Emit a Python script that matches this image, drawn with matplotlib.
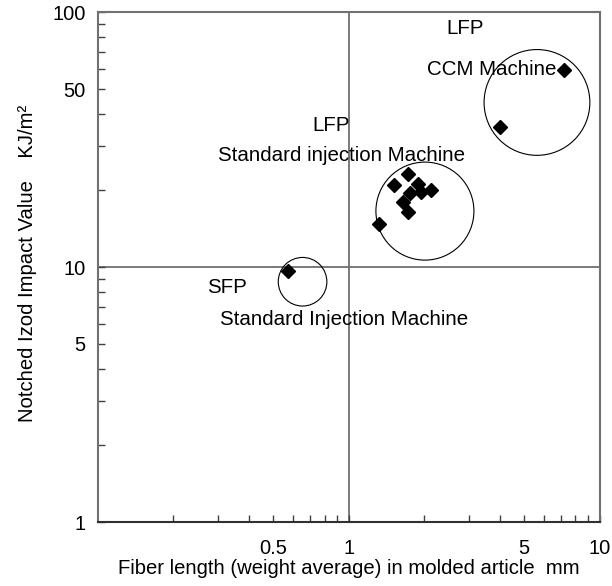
import matplotlib
matplotlib.use("Agg")
import matplotlib.pyplot as plt
from matplotlib.ticker import FixedLocator, NullFormatter

plt.rcParams['font.family'] = ['Liberation Sans', 'DejaVu Sans']

# fiber length (mm) vs notched izod impact (KJ/m2)
sfp_x = [0.57]
sfp_y = [9.7]
lfp_x = [1.72, 1.52, 1.88, 1.75, 1.94, 2.13, 1.64, 1.72, 1.32]
lfp_y = [23.3, 21.0, 21.3, 19.6, 19.8, 20.0, 18.1, 16.5, 14.8]
ccm_x = [7.2, 4.0]
ccm_y = [59.6, 35.5]

# group circle centres
circ_x = [0.654, 2.01, 5.62]
circ_y = [8.77, 16.6, 44.3]

x_major = [0.5, 1, 5, 10]
x_minor = [0.2, 0.3, 0.4, 0.6, 0.7, 0.8, 0.9, 2, 3, 4, 6, 7, 8, 9]
y_major = [1, 5, 10, 50, 100]
y_minor = [2, 3, 4, 6, 7, 8, 9, 20, 30, 40, 60, 70, 80, 90]

gray = "#707070"

fig = plt.figure(figsize=(6.12, 5.86), dpi=100)
ax = fig.add_axes([0.160, 0.109, 0.820, 0.870])
ax.set_xscale("log")
ax.set_yscale("log")
ax.set_xlim(0.1, 10)
ax.set_ylim(1, 100)

ax.axvline(1, color=gray, lw=1.3, zorder=1)
ax.axhline(10, color=gray, lw=1.3, zorder=1)

# circles around groups
ax.scatter(circ_x, circ_y, s=[1225, 4980, 5800], facecolors="none",
           edgecolors="black", linewidths=0.8, zorder=2)

allx = sfp_x + lfp_x + ccm_x
ally = sfp_y + lfp_y + ccm_y
ax.plot(allx, ally, linestyle="none", marker="D", ms=6.8, color="black", zorder=3)

fs = 14.8
ax.text(0.694, 0.969, "LFP", transform=ax.transAxes, fontsize=fs, va="center")
ax.text(0.914, 0.888, "CCM Machine", transform=ax.transAxes, fontsize=fs, va="center", ha="right")
ax.text(0.428, 0.778, "LFP", transform=ax.transAxes, fontsize=fs, va="center")
ax.text(0.239, 0.720, "Standard injection Machine", transform=ax.transAxes, fontsize=fs, va="center")
ax.text(0.217, 0.461, "SFP", transform=ax.transAxes, fontsize=fs, va="center")
ax.text(0.243, 0.398, "Standard Injection Machine", transform=ax.transAxes, fontsize=fs, va="center")

ax.xaxis.set_major_locator(FixedLocator(x_major))
ax.xaxis.set_minor_locator(FixedLocator(x_minor))
ax.set_xticklabels([str(v) for v in x_major])
ax.xaxis.set_minor_formatter(NullFormatter())
ax.yaxis.set_major_locator(FixedLocator(y_major))
ax.yaxis.set_minor_locator(FixedLocator(y_minor))
ax.set_yticklabels([str(v) for v in y_major])
ax.yaxis.set_minor_formatter(NullFormatter())

ax.tick_params(which="both", direction="in", length=5, width=1, color="#404040",
               top=False, right=False, labelsize=14.5)
ax.tick_params(axis="x", pad=12)
ax.tick_params(axis="y", pad=9)

for sp in ax.spines.values():
    sp.set_color(gray)
    sp.set_linewidth(1.5)
ax.spines["bottom"].set_color("#303030")

ax.set_xlabel("Fiber length (weight average) in molded article  mm", fontsize=14.6, labelpad=1)
fig.text(0.045, 0.55, "Notched Izod Impact Value    KJ/m²", rotation=90,
         fontsize=14.6, ha="center", va="center")

fig.savefig("out.png", dpi=100)
